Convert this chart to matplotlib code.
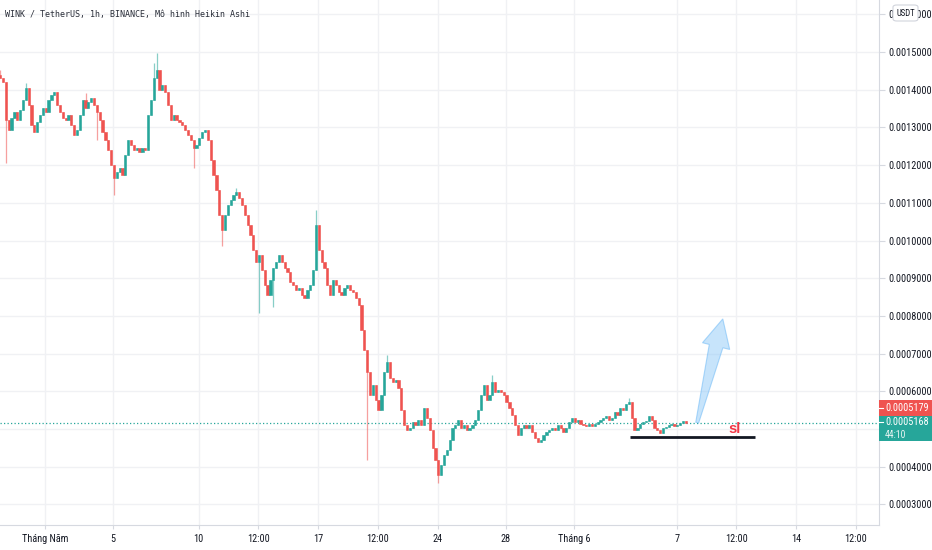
import matplotlib
matplotlib.use("Agg")
import matplotlib.pyplot as plt
import matplotlib.dates as mdates
from matplotlib import font_manager as fm
from matplotlib.patches import Polygon, FancyBboxPatch, Rectangle
from datetime import datetime, timedelta
import numpy as np

# ---------------- data ----------------
title = "WINK / TetherUS, 1h, BINANCE, Mô hình Heikin Ashi"
start = datetime(2021, 4, 28, 9, 0)      # first (4h-aggregated) candle
first_open = 0.0014400
close = [
    0.0014310, 0.0014204, 0.0013196, 0.0012931, 0.0013249, 0.0013409, 0.0013196, 0.0013462, 0.0013727, 0.0014045,
    0.0013594, 0.0013064, 0.0012878, 0.0013143, 0.0013329, 0.0013515, 0.0013409, 0.0013727, 0.0013859, 0.0013939,
    0.0013594, 0.0013409, 0.0013249, 0.0013196, 0.0013329, 0.0013064, 0.0012798, 0.0012931, 0.0013329, 0.0013727,
    0.0013515, 0.0013674, 0.0013780, 0.0013594, 0.0013409, 0.0013196, 0.0012878, 0.0012666, 0.0012401, 0.0012003,
    0.0011658, 0.0011817, 0.0011923, 0.0011737, 0.0012268, 0.0012666, 0.0012533, 0.0012401, 0.0012454, 0.0012347,
    0.0012454, 0.0012401, 0.0013329, 0.0013727, 0.0014310, 0.0014523, 0.0013992, 0.0014125, 0.0013939, 0.0013594,
    0.0013196, 0.0013329, 0.0013196, 0.0013143, 0.0013064, 0.0012931, 0.0012798, 0.0012666, 0.0012454, 0.0012533,
    0.0012719, 0.0012878, 0.0012931, 0.0012666, 0.0012135, 0.0011737, 0.0011340, 0.0010676, 0.0010279, 0.0010676,
    0.0010942, 0.0011074, 0.0011207, 0.0011286, 0.0011127, 0.0010942, 0.0010676, 0.0010411, 0.0010146, 0.0009748,
    0.0009430, 0.0009615, 0.0009217, 0.0008820, 0.0008554, 0.0008952, 0.0009271, 0.0009430, 0.0009615, 0.0009430,
    0.0009271, 0.0009165, 0.0008899, 0.0008820, 0.0008687, 0.0008740, 0.0008554, 0.0008475, 0.0008687, 0.0008820,
    0.0009217, 0.0010411, 0.0009748, 0.0009430, 0.0009271, 0.0008820, 0.0008554, 0.0008952, 0.0008820, 0.0008634,
    0.0008554, 0.0008740, 0.0008820, 0.0008687, 0.0008634, 0.0008475, 0.0008289, 0.0007626, 0.0007095, 0.0006512,
    0.0005902, 0.0006167, 0.0005769, 0.0005504, 0.0005902, 0.0006512, 0.0006777, 0.0006353, 0.0006246, 0.0006300,
    0.0006087, 0.0005504, 0.0005106, 0.0004973, 0.0005027, 0.0005186, 0.0005106, 0.0005239, 0.0005106, 0.0005557,
    0.0005292, 0.0004973, 0.0004496, 0.0004178, 0.0003780, 0.0004045, 0.0004310, 0.0004443, 0.0004708, 0.0005027,
    0.0005106, 0.0005239, 0.0005027, 0.0005106, 0.0004973, 0.0005027, 0.0005106, 0.0005239, 0.0005504, 0.0005902,
    0.0006167, 0.0005769, 0.0005902, 0.0006246, 0.0005981, 0.0006034, 0.0005981, 0.0005902, 0.0005716, 0.0005557,
    0.0005371, 0.0005106, 0.0004841, 0.0005027, 0.0005106, 0.0005027, 0.0005106, 0.0004920, 0.0004761, 0.0004655,
    0.0004708, 0.0004841, 0.0004920, 0.0004973, 0.0005027, 0.0004973, 0.0005106, 0.0005027, 0.0004920, 0.0005027,
    0.0005186, 0.0005292, 0.0005186, 0.0005239, 0.0005133, 0.0005106, 0.0005080, 0.0005133, 0.0005080, 0.0005133,
    0.0005186, 0.0005239, 0.0005292, 0.0005345, 0.0005239, 0.0005292, 0.0005451, 0.0005371, 0.0005557, 0.0005504,
    0.0005663, 0.0005716, 0.0005292, 0.0004973, 0.0005027, 0.0005133, 0.0005186, 0.0005212, 0.0005345, 0.0005239,
    0.0005027, 0.0004973, 0.0004894, 0.0005027, 0.0005053, 0.0005106, 0.0005133, 0.0005080, 0.0005106, 0.0005159,
    0.0005212, 0.0005168,
]
high_spikes = {0: 0.0014523, 9: 0.0014178, 30: 0.0013912, 54: 0.0014700, 55: 0.0014973,
               83: 0.0011392, 111: 0.0010809, 136: 0.0006963, 173: 0.0006432, 221: 0.0005822}
low_spikes = {2: 0.0012056, 34: 0.0012666, 40: 0.0011207, 68: 0.0011923, 78: 0.0009854,
              91: 0.0008077, 96: 0.0008236, 129: 0.0004178, 154: 0.0003568}

last_price = 0.0005168
prev_close_label = 0.0005179
countdown = "44:10"

price_ticks = [0.0003, 0.0004, 0.0005, 0.0006, 0.0007, 0.0008, 0.0009, 0.0010,
               0.0011, 0.0012, 0.0013, 0.0014, 0.0015, 0.0016]
hidden_price_labels = [0.0005]   # covered by the live price labels in the reference
time_ticks = [datetime(2021, 5, 1), datetime(2021, 5, 5), datetime(2021, 5, 10),
              datetime(2021, 5, 13, 12), datetime(2021, 5, 17), datetime(2021, 5, 20, 12),
              datetime(2021, 5, 24), datetime(2021, 5, 28), datetime(2021, 6, 1),
              datetime(2021, 6, 7), datetime(2021, 6, 10, 12), datetime(2021, 6, 14),
              datetime(2021, 6, 17, 12)]
time_labels = ["Tháng Năm", "5", "10", "12:00", "17", "12:00", "24", "28",
               "Tháng 6", "7", "12:00", "14", "12:00"]

# drawings
sl_level = 0.000479
sl_start = datetime(2021, 6, 4, 6)
sl_end = datetime(2021, 6, 11, 14)
arrow_start = (datetime(2021, 6, 8, 5), 0.0005168)
arrow_end = (datetime(2021, 6, 9, 17), 0.000792)

# ---------------- fonts ----------------
names = {f.name for f in fm.fontManager.ttflist}
dejavu_cond = any(f.name == "DejaVu Sans" and str(f.stretch) in ("condensed", "semi-condensed", "600")
                  for f in fm.fontManager.ttflist)
if "Liberation Sans Narrow" in names:
    LF = dict(family=["Liberation Sans Narrow", "DejaVu Sans"], stretch="normal"); LS = 7.6
elif "Roboto Condensed" in names:
    LF = dict(family=["Roboto Condensed", "DejaVu Sans"], stretch="normal"); LS = 7.4
elif dejavu_cond:
    LF = dict(family=["DejaVu Sans"], stretch="condensed"); LS = 7.0
else:
    LF = dict(family=["Roboto", "DejaVu Sans"], stretch="normal"); LS = 6.4

def style_text(t, size=None):
    t.set_family(LF["family"])
    t.set_stretch(LF["stretch"])
    t.set_fontsize(size if size else LS)

# ---------------- figure ----------------
UP = "#26a69a"
DOWN = "#ef5350"
GRID = "#f0f1f4"
TXT = "#131722"
AXC = "#d6d9e0"

W, H = 932, 550
fig = plt.figure(figsize=(W / 100, H / 100), dpi=100)
fig.patch.set_facecolor("white")
ax = fig.add_axes([0, 25 / H, 879 / W, 525 / H])

ax.set_xlim(mdates.date2num(datetime(2021, 4, 28, 8, 44)), mdates.date2num(datetime(2021, 6, 18, 20, 38)))
ax.set_ylim(0.0002454, 0.0016379)

# grid
for p in price_ticks:
    ax.axhline(p, color=GRID, lw=1.0, zorder=0)
for t in time_ticks:
    ax.axvline(mdates.date2num(t), color=GRID, lw=1.0, zorder=0)

# candles
n = len(close)
xs = np.array([mdates.date2num(start + timedelta(hours=4 * i)) for i in range(n)])
c = np.array(close)
o = np.concatenate([[first_open], c[:-1]])
hi = np.maximum(o, c)
lo = np.minimum(o, c)
for k, v in high_spikes.items():
    hi[k] = max(hi[k], v)
for k, v in low_spikes.items():
    lo[k] = min(lo[k], v)
cols = np.where(c >= o, UP, DOWN)
ax.vlines(xs, lo, hi, colors=cols, lw=0.9, alpha=0.55, zorder=2)
ax.bar(xs, c - o, bottom=o, width=0.13, color=cols, edgecolor=cols, lw=0.4, zorder=3)

# current price dotted line
ax.axhline(last_price, color=UP, lw=0.9, ls=(0, (1, 1.8)), zorder=1)

# stop-loss line and label
ax.plot([mdates.date2num(sl_start), mdates.date2num(sl_end)], [sl_level, sl_level],
        color=TXT, lw=2.0, solid_capstyle="butt", zorder=4)
ax.text(mdates.date2num(datetime(2021, 6, 10, 9)), sl_level + 0.000002, "sl", color="#f23645",
        fontsize=10.5, fontweight="bold", ha="center", va="bottom", zorder=5,
        family=["Liberation Sans", "DejaVu Sans"])

# arrow drawing (tapered arrow, built from its two data anchors)
p0 = ax.transData.transform((mdates.date2num(arrow_start[0]), arrow_start[1]))
p1 = ax.transData.transform((mdates.date2num(arrow_end[0]), arrow_end[1]))
d = p1 - p0
L = np.hypot(*d)
u = d / L
nv = np.array([-u[1], u[0]])
head_len, head_hw, neck_hw, tail_hw = 28, 14.0, 7.0, 1.5
neck = p0 + u * (L - head_len)
pts_disp = [p0 + nv * tail_hw, neck + nv * neck_hw, neck + nv * head_hw, p1,
            neck - nv * head_hw, neck - nv * neck_hw, p0 - nv * tail_hw]
pts = ax.transData.inverted().transform(np.array(pts_disp))
ax.add_patch(Polygon(pts, closed=True, facecolor="#90caf9", alpha=0.5,
                     edgecolor="#64b5f6", lw=0.8, zorder=6))

# axes styling
for s in ["top", "left"]:
    ax.spines[s].set_visible(False)
ax.spines["right"].set_color(AXC)
ax.spines["bottom"].set_color(AXC)
ax.yaxis.tick_right()
ax.set_yticks(price_ticks)
ax.set_yticklabels(["" if any(abs(p - h) < 1e-9 for h in hidden_price_labels) else f"{p:.7f}"
                    for p in price_ticks])
ax.set_xticks([mdates.date2num(t) for t in time_ticks])
ax.set_xticklabels(time_labels)
ax.tick_params(axis="y", length=4, color=AXC, pad=3, labelcolor=TXT)
ax.tick_params(axis="x", length=3, color=AXC, pad=3.5, labelcolor=TXT)
for lab in ax.get_xticklabels() + ax.get_yticklabels():
    style_text(lab)

# title
fig.text(5 / W, 1 - 15 / H, title, fontsize=6.0, family="DejaVu Sans Mono", color="#2a2e39",
         ha="left", va="center")

# right-axis price labels
def disp_y(price):
    return ax.transData.transform((ax.get_xlim()[0], price))[1]

py = disp_y(last_price)
x0 = 879
fig.add_artist(Rectangle((x0 / W, (py + 6.7) / H), (W - x0) / W, 16 / H,
                         transform=fig.transFigure, facecolor=DOWN, edgecolor="none", zorder=10))
fig.add_artist(Rectangle((x0 / W, (py - 18.8) / H), (W - x0) / W, 25.5 / H,
                         transform=fig.transFigure, facecolor=UP, edgecolor="none", zorder=10))
for yy in (py + 14.7, py + 0.5):
    fig.add_artist(plt.Line2D([x0 / W, (x0 + 4) / W], [yy / H, yy / H], transform=fig.transFigure,
                              color="white", lw=0.8, zorder=11))
t1 = fig.text(885 / W, (py + 14.7) / H, f"{prev_close_label:.7f}", color="white",
              ha="left", va="center", zorder=12)
t2 = fig.text(885 / W, (py + 0.8) / H, f"{last_price:.7f}", color="white",
              ha="left", va="center", zorder=12)
t3 = fig.text(885 / W, (py - 12.0) / H, countdown, color="#e6f4f2",
              ha="left", va="center", zorder=12)
for t in (t1, t2, t3):
    style_text(t)
t3.set_fontsize(LS * 0.95)

# USDT badge
fig.add_artist(FancyBboxPatch((893 / W, (H - 21) / H), 25 / W, 16 / H,
                              boxstyle="round,pad=0,rounding_size=0.004",
                              transform=fig.transFigure, facecolor="white",
                              edgecolor="#d1d4dc", lw=0.8, zorder=10))
tb = fig.text(905.5 / W, (H - 13) / H, "USDT", color=TXT, ha="center", va="center", zorder=11)
style_text(tb, LS * 0.85)

fig.savefig("out.png", dpi=100, facecolor="white")
